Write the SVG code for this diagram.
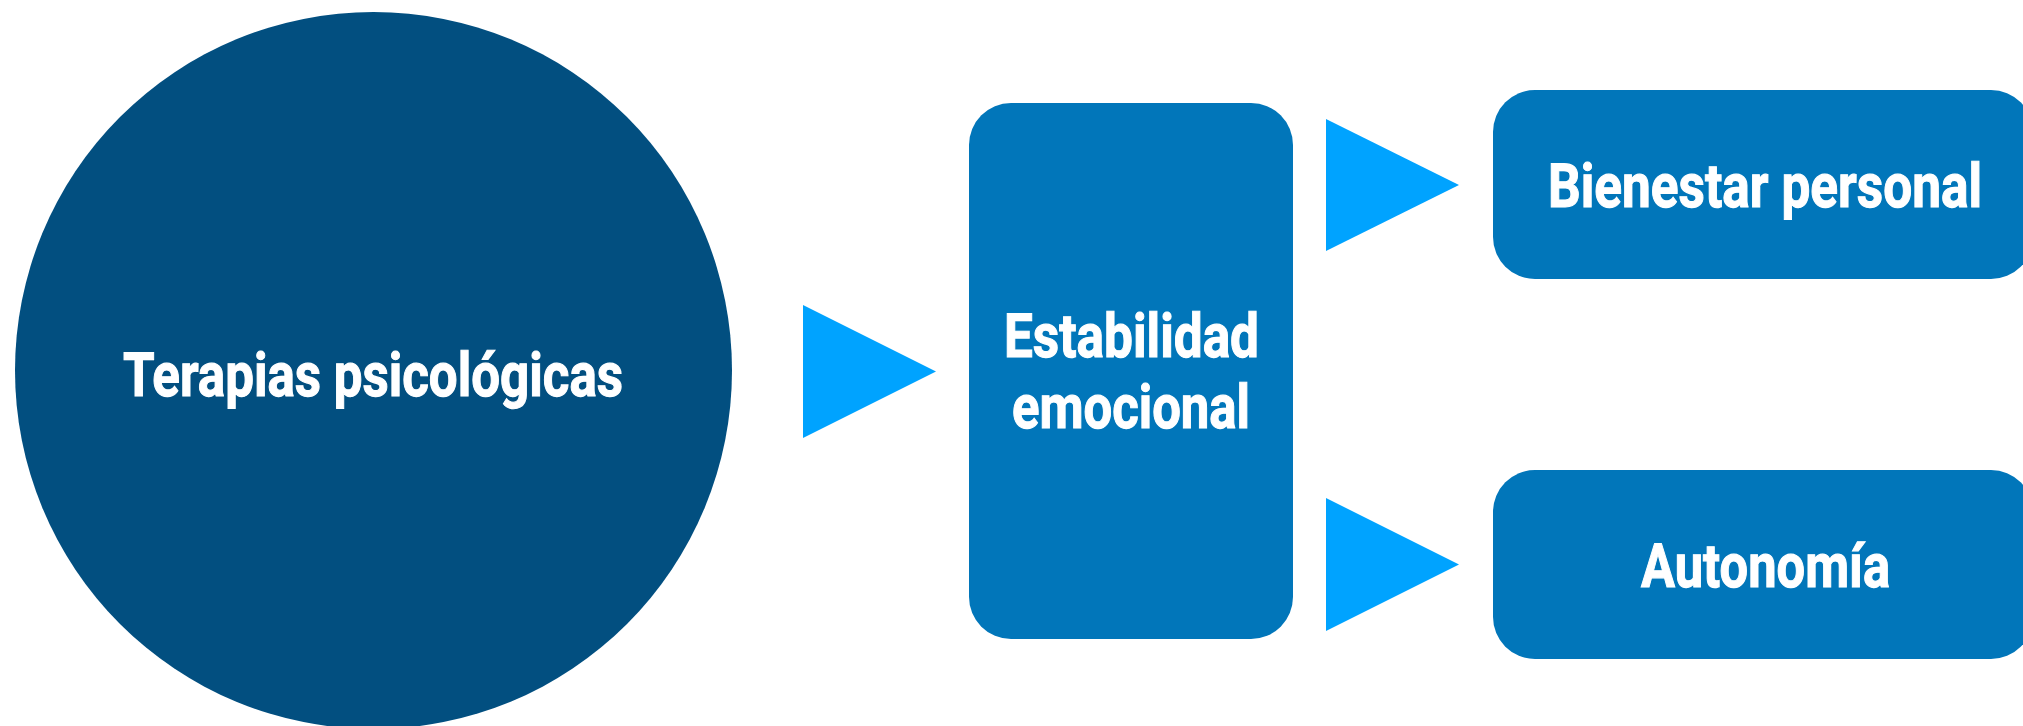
<svg xmlns="http://www.w3.org/2000/svg" width="2023" height="726" viewBox="0 0 2023 726">
  <style>
    .lbl { font-family: Roboto, "Liberation Sans", Arial, sans-serif; font-weight: bold; font-size: 61px; fill: #ffffff; stroke: #ffffff; stroke-width: 1.1; text-anchor: middle; text-rendering: geometricPrecision; }
    .box { fill: #0176BA; }
    .arrow { fill: #00A3FF; }
  </style>
  <rect width="2023" height="726" fill="#ffffff"/>
  <g id="connectors">
    <polygon class="arrow" points="803,305 803,438 936,371.5"/>
    <polygon class="arrow" points="1326,119 1326,251 1459,185"/>
    <polygon class="arrow" points="1326,498 1326,631 1459,564.5"/>
  </g>
  <g id="node-terapias">
    <circle cx="373.5" cy="370.5" r="358.5" fill="#024F80"/>
    <text class="lbl" transform="translate(373,396) scale(0.88,1)" x="0" y="0" textLength="568.2" lengthAdjust="spacingAndGlyphs">Terapias psicológicas</text>
  </g>
  <g id="node-estabilidad">
    <rect class="box" x="969" y="103" width="324" height="536" rx="42" ry="42"/>
    <text class="lbl" transform="translate(1131.5,357) scale(0.88,1)" x="0" y="0" textLength="289.8" lengthAdjust="spacingAndGlyphs">Estabilidad</text>
    <text class="lbl" transform="translate(1131,428) scale(0.88,1)" x="0" y="0" textLength="270.5" lengthAdjust="spacingAndGlyphs">emocional</text>
  </g>
  <g id="node-bienestar">
    <rect class="box" x="1493" y="90" width="540" height="189" rx="42" ry="42"/>
    <text class="lbl" transform="translate(1765,207) scale(0.88,1)" x="0" y="0" textLength="493.2" lengthAdjust="spacingAndGlyphs">Bienestar personal</text>
  </g>
  <g id="node-autonomia">
    <rect class="box" x="1493" y="470" width="540" height="189" rx="42" ry="42"/>
    <text class="lbl" transform="translate(1765.5,587) scale(0.88,1)" x="0" y="0" textLength="283" lengthAdjust="spacingAndGlyphs">Autonomía</text>
  </g>
</svg>
